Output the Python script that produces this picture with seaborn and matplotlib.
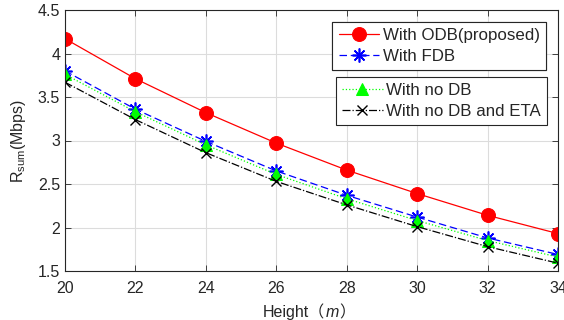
import numpy as np
import pandas as pd
import seaborn as sns
import matplotlib
matplotlib.use("Agg")
import matplotlib.pyplot as plt
from matplotlib.offsetbox import TextArea, HPacker, AnchoredOffsetbox

heights = [20, 22, 24, 26, 28, 30, 32, 34]
odb = [4.17, 3.71, 3.32, 2.97, 2.66, 2.39, 2.14, 1.93]
fdb = [3.80, 3.36, 2.99, 2.65, 2.37, 2.12, 1.88, 1.69]
nodb = [3.76, 3.33, 2.95, 2.61, 2.33, 2.08, 1.85, 1.66]
nodb_eta = [3.67, 3.24, 2.86, 2.53, 2.26, 2.01, 1.78, 1.59]
labels = ["With ODB(proposed)", "With FDB", "With no DB", "With no DB and ETA"]
xticks = [20, 22, 24, 26, 28, 30, 32, 34]
yticks = [1.5, 2, 2.5, 3, 3.5, 4, 4.5]

sns.set_theme(style="white")
FAM = ['Liberation Sans', 'Noto Sans CJK SC', 'DejaVu Sans']
plt.rcParams['font.family'] = FAM
plt.rcParams['mathtext.fontset'] = 'custom'
plt.rcParams['mathtext.rm'] = 'Liberation Sans'
plt.rcParams['mathtext.it'] = 'Liberation Sans:italic'
plt.rcParams['mathtext.bf'] = 'Liberation Sans:bold'

TXT = "#262626"
FS = 11.5

fig = plt.figure(figsize=(5.64, 3.2), dpi=100)
ax = fig.add_axes([65/564, 1-271/320, (558-65)/564, (271-10)/320])

df = pd.DataFrame({"h": heights, "odb": odb, "fdb": fdb, "nodb": nodb, "eta": nodb_eta})
styles = [
    ("odb", dict(color="#ff0000", linestyle="-", marker="o", markersize=10, markeredgecolor="#ff0000")),
    ("fdb", dict(color="#0000ff", linestyle=(0, (6, 3)), marker=(8, 2, 0), markersize=10,
                 markeredgecolor="#0000ff", markeredgewidth=1.2)),
    ("nodb", dict(color="#00ff00", linestyle=":", marker="^", markersize=8, markeredgecolor="#00ff00",
                  markerfacecolor="#00ff00")),
    ("eta", dict(color="black", linestyle="-.", marker="x", markersize=7, markeredgecolor="black",
                 markeredgewidth=1.0)),
]
for (col, st), lab in zip(styles, labels):
    ls = st.pop("linestyle")
    sns.lineplot(data=df, x="h", y=col, ax=ax, label=lab, linewidth=0.9, linestyle=ls, **st)
h, l = ax.get_legend_handles_labels()
if ax.get_legend():
    ax.get_legend().remove()

ax.set_xlim(20, 34)
ax.set_ylim(1.5, 4.5)
ax.set_xticks(xticks)
ax.set_yticks(yticks)
ax.set_yticklabels([("%g" % v) for v in yticks])
ax.grid(True, color="#dcdcdc", linewidth=0.8)
ax.tick_params(direction="in", length=4, width=0.6, colors=TXT, labelsize=FS,
               top=True, right=True, bottom=True, left=True)
ax.tick_params(axis="x", pad=7)
for s in ax.spines.values():
    s.set_color(TXT)
    s.set_linewidth(0.8)
ax.set_xlabel("")
ax.set_ylabel("R$_{\\mathrm{sum}}$(Mbps)", fontsize=FS, color=TXT, labelpad=7)

# x label: "Height（m）" with italic m
tp = dict(fontsize=FS, color=TXT, family=FAM)
parts = [TextArea("Height（", textprops=tp),
         TextArea("m", textprops=dict(tp, style="italic")),
         TextArea("）", textprops=tp)]
box = HPacker(children=parts, align="baseline", pad=0, sep=0)
anch = AnchoredOffsetbox(loc="center", child=box, pad=0, borderpad=0, frameon=False,
                         bbox_to_anchor=(309/564, 1-312/320), bbox_transform=fig.transFigure)
fig.add_artist(anch)

legkw = dict(loc="upper right", fontsize=12.2, frameon=True, fancybox=False, framealpha=1,
             edgecolor=TXT, handlelength=2.4, handletextpad=0.2, borderpad=0.37,
             labelspacing=0.35, borderaxespad=0)
leg1 = fig.legend(h[:2], l[:2], bbox_to_anchor=(546/564, 1-22/320), **legkw)
leg1.get_frame().set_linewidth(0.8)
leg2 = fig.legend(h[2:], l[2:], bbox_to_anchor=(547/564, 1-77/320), **legkw)
leg2.get_frame().set_linewidth(0.8)
fig.add_artist(leg1)

fig.savefig("out.png", dpi=100)
